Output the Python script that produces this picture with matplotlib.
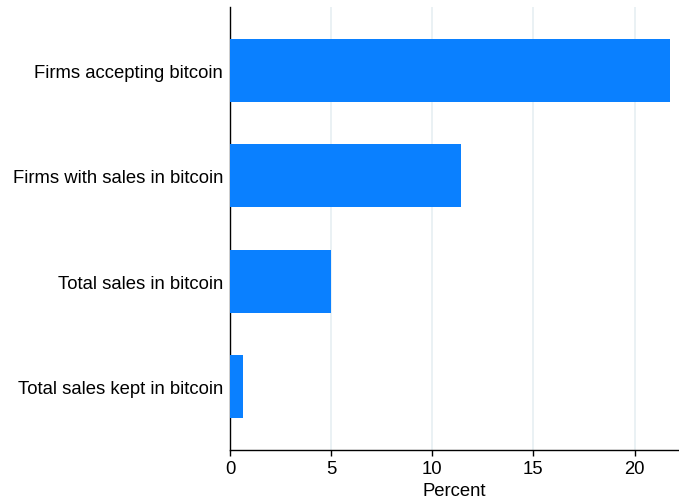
import matplotlib
matplotlib.use('Agg')
import matplotlib.pyplot as plt

categories = ['Firms accepting bitcoin', 'Firms with sales in bitcoin',
              'Total sales in bitcoin', 'Total sales kept in bitcoin']
values = [21.75, 11.4, 5.0, 0.63]
xticks = [0, 5, 10, 15, 20]

plt.rcParams['font.family'] = ['Liberation Sans', 'DejaVu Sans']

fig = plt.figure(figsize=(6.79, 5.02), dpi=100)
ax = fig.add_axes([230 / 679, 1 - 451 / 502, 449 / 679, 443 / 502])

pos = list(range(len(categories)))
ax.barh(pos, values, height=0.6, color='#0A80FF', zorder=3)
ax.set_ylim(3.6, -0.6)
ax.set_xlim(0, 22.2)
ax.set_yticks(pos)
ax.set_yticklabels(categories, fontsize=13.3)
ax.set_xticks(xticks)
ax.set_xticklabels([str(t) for t in xticks], fontsize=13.3)
ax.set_xlabel('Percent', fontsize=13.3, labelpad=4)

for t in xticks[1:]:
    ax.axvline(t, color='#e6eff2', linewidth=1.2, zorder=1)

for s in ['top', 'right']:
    ax.spines[s].set_visible(False)
ax.spines['left'].set_linewidth(1.0)
ax.spines['bottom'].set_linewidth(1.0)
ax.tick_params(axis='y', length=0, pad=5)
ax.tick_params(axis='x', length=4, width=1.0, pad=3)

fig.savefig('out.png', dpi=100)
